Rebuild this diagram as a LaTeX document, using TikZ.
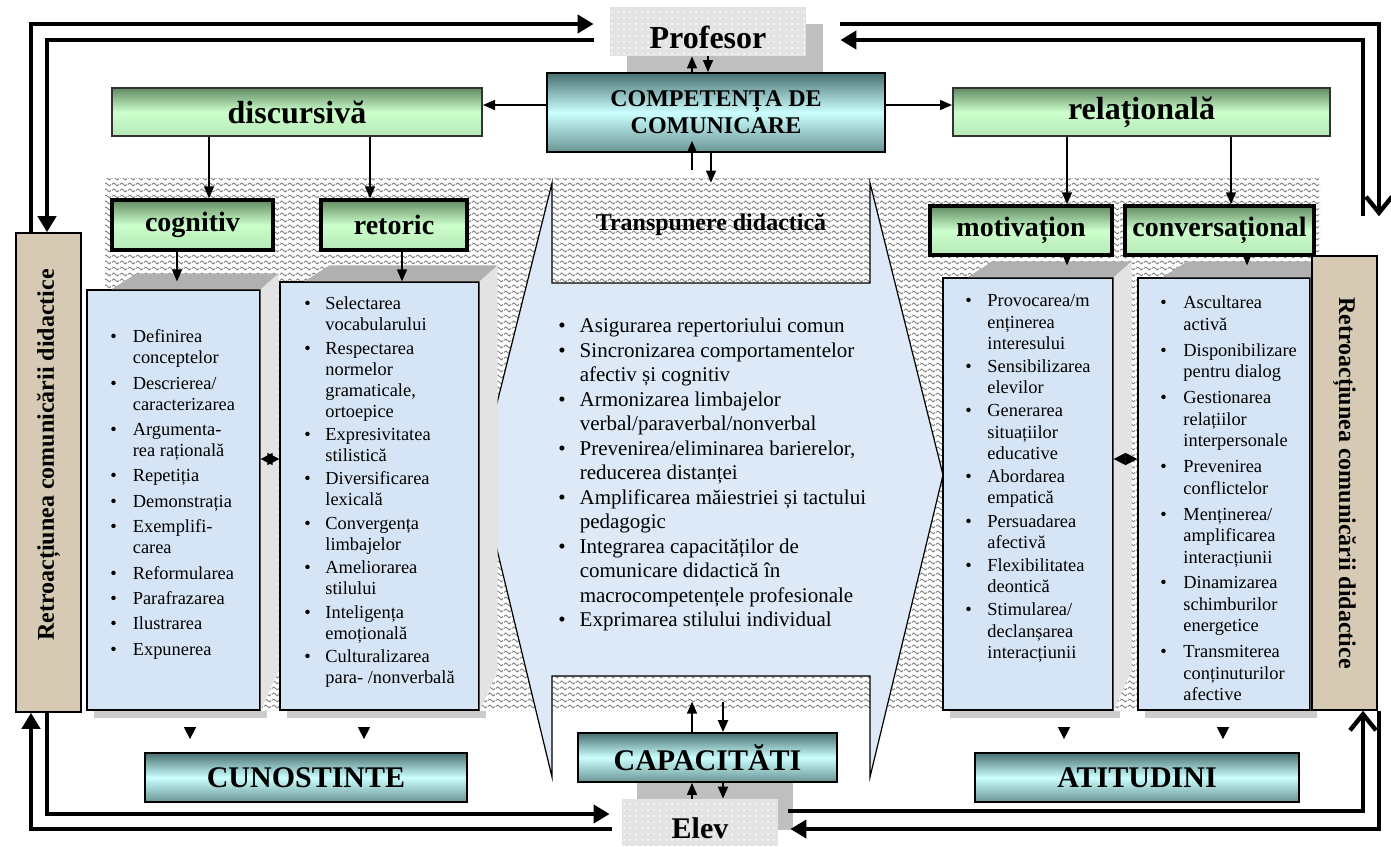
\documentclass[tikz,border=0pt]{standalone}
\usepackage{fontspec}
\setmainfont{Liberation Serif}
\usetikzlibrary{arrows.meta,patterns,fit,shadows}

\definecolor{grdark}{RGB}{98,138,98}
\definecolor{grlight}{RGB}{204,255,204}
\definecolor{tldark}{RGB}{72,112,112}
\definecolor{tllight}{RGB}{204,255,255}
\definecolor{listblue}{RGB}{214,229,246}
\definecolor{callblue}{RGB}{221,233,247}
\definecolor{retrotan}{RGB}{214,202,180}

% wavy hatching of the background
\pgfdeclarepatternformonly{wavy}{\pgfqpoint{0pt}{0pt}}{\pgfqpoint{4pt}{3pt}}{\pgfqpoint{4pt}{3pt}}{%
  \pgfsetlinewidth{0.45pt}
  \pgfpathmoveto{\pgfqpoint{0pt}{1.5pt}}
  \pgfpathcurveto{\pgfqpoint{0.7pt}{2.6pt}}{\pgfqpoint{1.3pt}{2.6pt}}{\pgfqpoint{2pt}{1.5pt}}
  \pgfpathcurveto{\pgfqpoint{2.7pt}{0.4pt}}{\pgfqpoint{3.3pt}{0.4pt}}{\pgfqpoint{4pt}{1.5pt}}
  \pgfusepath{stroke}}

\newcommand{\setfs}[2]{\fontsize{#1}{#2}\selectfont}
% grey 3D faces round a list box
\newcommand{\listbevel}[1]{%
  \fill[gray!62] ([xshift=12.5pt]#1.north west) -- ++(12.5pt,8pt) -- ([xshift=9pt,yshift=8pt]#1.north east) -- (#1.north east) -- cycle;
  \fill[gray!22] (#1.north east) -- ++(9pt,8pt) -- ([xshift=9pt,yshift=20pt]#1.south east) -- (#1.south east) -- cycle;
  \fill[gray!40] ([xshift=4pt]#1.south west) rectangle ([xshift=3pt,yshift=-3.5pt]#1.south east);}

\begin{document}
\begin{tikzpicture}[x=0.5pt, y=-0.5pt,
greenhead/.style={draw=black!80, line width=1pt, top color=grdark, bottom color=grlight!80!grdark, middle color=grlight, inner sep=0pt},
greensub/.style={greenhead, draw=black, line width=1.7pt},
tealbox/.style={draw=black, line width=0.9pt, top color=tldark, bottom color=tldark!75!tllight, middle color=tllight, inner sep=0pt},
bigfont/.style={font=\bfseries\setfs{16}{18}},
subfont/.style={font=\bfseries\setfs{14}{16}},
capsfont/.style={font=\bfseries\setfs{15}{17}},
listbox/.style={draw=black, line width=0.6pt, fill=listblue, inner sep=0pt},
listtext/.style={anchor=north west, inner sep=0pt, font=\setfs{9.2}{10.5}},
retro/.style={draw=black, line width=0.8pt, fill=retrotan, inner sep=0pt},
retrotext/.style={font=\bfseries\setfs{12}{14}},
person/.style={fill=gray!22, postaction={pattern=dots, pattern color=white}, inner sep=0pt},
arr/.style={line width=0.7pt, -{Triangle[length=6pt, width=5pt]}},
tipdown/.style={line width=0.7pt, -{Triangle[length=6pt, width=6pt]}},
both/.style={line width=0.7pt, {Triangle[length=6pt, width=6pt]}-{Triangle[length=6pt, width=6pt]}},
loopline/.style={line width=2.2pt},
bighead/.style={-{Triangle[length=8pt, width=9pt]}},
barbhead/.style={-{Straight Barb[length=8pt, width=13pt]}} ]
\useasboundingbox (0,0) rectangle (1391,846);

% wavy background
\fill[pattern=wavy, pattern color=black!55] (105,178) rectangle (1320,710);

% central callout with its two notches
\draw[fill=callblue, line width=0.6pt] (552,183) -- (552,283) -- (870,283) -- (870,183) -- (943,475) -- (870,777)
  -- (870,676) -- (552,676) -- (552,777) -- (479,475) -- cycle;
\node[fit={(552,183)(870,283)}, inner sep=0pt, label={[font=\bfseries\setfs{12}{14}, yshift=4pt]center:Transpunere didactică}] (transp) {};
\node[fit={(552,676)(870,777)}, inner sep=0pt] (notchb) {};

\node[listtext, font=\setfs{10.5}{12.25}] (mtext) at (558,315) {\begin{tabular}{@{}c@{\hspace{7pt}}l@{}}
\textbullet & Asigurarea repertoriului comun\\
\textbullet & Sincronizarea comportamentelor\\
 & afectiv și cognitiv\\
\textbullet & Armonizarea limbajelor\\
 & verbal/paraverbal/nonverbal\\
\textbullet & Prevenirea/eliminarea barierelor,\\
 & reducerea distanței\\
\textbullet & Amplificarea măiestriei și tactului\\
 & pedagogic\\
\textbullet & Integrarea capacităților de\\
 & comunicare didactică în\\
 & macrocompetențele profesionale\\
\textbullet & Exprimarea stilului individual
\end{tabular}};

% list boxes
\node[listbox, fit={(87,290)(260,710)}] (cl) {};
\node[listbox, fit={(280,282)(479,710)}] (rl) {};
\node[listbox, fit={(943,278)(1113,710)}] (ml) {};
\node[listbox, fit={(1138,278)(1310,710)}] (vl) {};
\listbevel{cl} \listbevel{rl} \listbevel{ml} \listbevel{vl}

\node[listtext] (cltext) at (110,327.5) {\begin{tabular}{@{}c@{\hspace{8pt}}l@{}}
\textbullet & Definirea\\
 & conceptelor\\[2.2pt]
\textbullet & Descrierea/\\
 & caracterizarea\\[2.2pt]
\textbullet & Argumenta-\\
 & rea rațională\\[2.2pt]
\textbullet & Repetiția\\[2.2pt]
\textbullet & Demonstrația\\[2.2pt]
\textbullet & Exemplifi-\\
 & carea\\[2.2pt]
\textbullet & Reformularea\\[2.2pt]
\textbullet & Parafrazarea\\[2.2pt]
\textbullet & Ilustrarea\\[2.2pt]
\textbullet & Expunerea
\end{tabular}};

\node[listtext] (rltext) at (304,294.5) {\begin{tabular}{@{}c@{\hspace{7.3pt}}l@{}}
\textbullet & Selectarea\\
 & vocabularului\\[1.2pt]
\textbullet & Respectarea\\
 & normelor\\
 & gramaticale,\\
 & ortoepice\\[1.2pt]
\textbullet & Expresivitatea\\
 & stilistică\\[1.2pt]
\textbullet & Diversificarea\\
 & lexicală\\[1.2pt]
\textbullet & Convergența\\
 & limbajelor\\[1.2pt]
\textbullet & Ameliorarea\\
 & stilului\\[1.2pt]
\textbullet & Inteligența\\
 & emoțională\\[1.2pt]
\textbullet & Culturalizarea\\
 & para- /nonverbală
\end{tabular}};

\node[listtext, font=\setfs{9.2}{10.65}] (mltext) at (965,291.5) {\begin{tabular}{@{}c@{\hspace{7.8pt}}l@{}}
\textbullet & Provocarea/m\\
 & enținerea\\
 & interesului\\[0.9pt]
\textbullet & Sensibilizarea\\
 & elevilor\\[0.9pt]
\textbullet & Generarea\\
 & situațiilor\\
 & educative\\[0.9pt]
\textbullet & Abordarea\\
 & empatică\\[0.9pt]
\textbullet & Persuadarea\\
 & afectivă\\[0.9pt]
\textbullet & Flexibilitatea\\
 & deontică\\[0.9pt]
\textbullet & Stimularea/\\
 & declanșarea\\
 & interacțiunii
\end{tabular}};

\node[listtext, font=\setfs{9.2}{10.75}] (vltext) at (1160,293.5) {\begin{tabular}{@{}c@{\hspace{8.3pt}}l@{}}
\textbullet & Ascultarea\\
 & activă\\[2.2pt]
\textbullet & Disponibilizare\\
 & pentru dialog\\[2.2pt]
\textbullet & Gestionarea\\
 & relațiilor\\
 & interpersonale\\[2.2pt]
\textbullet & Prevenirea\\
 & conflictelor\\[2.2pt]
\textbullet & Menținerea/\\
 & amplificarea\\
 & interacțiunii\\[2.2pt]
\textbullet & Dinamizarea\\
 & schimburilor\\
 & energetice\\[2.2pt]
\textbullet & Transmiterea\\
 & conținuturilor\\
 & afective
\end{tabular}};

% feedback bars
\node[retro, fit={(16,233)(81,712)}] (lr) {};
\node[retro, fit={(1312,256)(1377,710)}] (rr) {};
\node[retrotext, rotate=90] (lrt) at (48.5,455) {Retroacțiunea comunicării didactice};
\node[retrotext, rotate=-90] (rrt) at (1344.5,483) {Retroacțiunea comunicării didactice};

% heads
\node[person, drop shadow={shadow xshift=8.5pt, shadow yshift=-8.5pt, fill=gray!50, opacity=1},
  fit={(610,7)(806,56)}, label={[bigfont, yshift=-3pt]center:Profesor}] (prof) {};
\node[person, drop shadow={shadow xshift=7.5pt, shadow yshift=8pt, fill=gray!50, opacity=1},
  fit={(622,799)(778,846)}, label={[capsfont, yshift=-3pt]center:Elev}] (elev) {};
\node[tealbox, fit={(547,73)(885,152)},
  label={[align=center, font=\bfseries\setfs{12}{13.5}]center:{COMPETENȚA DE\\COMUNICARE}}] (comp) {};
\node[greenhead, fit={(112,88)(482,136)}, label={[bigfont]center:discursivă}] (disc) {};
\node[greenhead, fit={(953,88)(1330,136)}, label={[bigfont]center:relațională}] (rel) {};
\node[greensub, fit={(112,200)(273,250)}, label={[subfont]center:cognitiv}] (cog) {};
\node[greensub, fit={(321,200)(467,250)}, label={[subfont]center:retoric}] (ret) {};
\node[greensub, fit={(930,206)(1112,255)}, label={[subfont]center:motivațion}] (mot) {};
\node[greensub, fit={(1125,206)(1314,255)}, label={[subfont]center:conversațional}] (conv) {};
\node[tealbox, fit={(145,753)(467,802)}, label={[capsfont]center:CUNOSTINTE}] (cun) {};
\node[tealbox, fit={(578,733)(837,782)}, label={[capsfont]center:CAPACITĂTI}] (cap) {};
\node[tealbox, fit={(975,753)(1299,802)}, label={[capsfont]center:ATITUDINI}] (ati) {};

% thin connectors
\draw[arr] (comp.west |- 0,105) -- (disc.east |- 0,105);
\draw[arr] (comp.east |- 0,105) -- (rel.west |- 0,105);
\draw[arr] (disc.south -| 209,0) -- (cog.north -| 209,0);
\draw[arr] (disc.south -| 370,0) -- (ret.north -| 370,0);
\draw[arr] (rel.south -| 1067,0) -- (mot.north -| 1067,0);
\draw[arr] (rel.south -| 1231,0) -- (conv.north -| 1231,0);
\draw[arr, shorten >=4pt] (cog.south -| 177,0) -- (cl.north -| 177,0);
\draw[arr] (ret.south -| 402,0) -- (rl.north -| 402,0);
\draw[arr, shorten >=6pt] (mot.south -| 1067,0) -- (ml.north -| 1067,0);
\draw[arr, shorten >=6pt] (conv.south -| 1247,0) -- (vl.north -| 1247,0);
\draw[arr] (comp.north -| 692,0) -- (prof.south -| 692,0);
\draw[arr] (prof.south -| 708,0) -- (comp.north -| 708,0);
\draw[arr, shorten <=6.5pt, shorten >=-6pt] (transp.north -| 692,0) -- (comp.south -| 692,0);
\draw[arr] (comp.south -| 711,0) -- (transp.north -| 711,0);
\draw[arr, shorten >=13pt] (cap.north -| 692,0) -- (notchb.north -| 692,0);
\draw[arr, line width=1.1pt, shorten <=13pt] (notchb.north -| 723,0) -- (cap.north -| 723,0);
\draw[arr] (elev.north -| 692,0) -- (cap.south -| 692,0);
\draw[arr, line width=1.1pt] (cap.south -| 723,0) -- (elev.north -| 723,0);
\draw[both] (cl.east |- 0,459) -- (rl.west |- 0,459);
\draw[both] (ml.east |- 0,459) -- (vl.west |- 0,459);
\draw[tipdown, shorten <=9pt, shorten >=6.5pt] (cl.south -| 190,0) -- (cun.north -| 190,0);
\draw[tipdown, shorten <=9pt, shorten >=6.5pt] (rl.south -| 364,0) -- (cun.north -| 364,0);
\draw[tipdown, shorten <=9pt, shorten >=6.5pt] (ml.south -| 1064,0) -- (ati.north -| 1064,0);
\draw[tipdown, shorten <=9pt, shorten >=6.5pt] (vl.south -| 1223,0) -- (ati.north -| 1223,0);

% feedback loops
\draw[loopline, bighead, shorten >=8pt] (lr.north -| 31,0) |- (prof.west |- 0,24);
\draw[loopline, bighead, shorten <=8pt] (prof.west |- 0,40) -| (lr.north -| 47,0);
\draw[loopline, bighead, shorten >=6pt] (lr.south -| 47,0) |- (elev.west |- 0,814);
\draw[loopline, bighead, shorten <=5pt] (elev.west |- 0,829) -| (lr.south -| 31,0);
\draw[loopline, barbhead, shorten <=17pt, shorten >=19.5pt] (prof.east |- 0,24) -| (rr.north -| 1379,0);
\draw[loopline, bighead, shorten <=19.5pt, shorten >=17pt] (rr.north -| 1363,0) |- (prof.east |- 0,40);
\draw[loopline, barbhead, shorten <=5pt] (elev.east |- 0,811) -| (rr.south -| 1363,0);
\draw[loopline, bighead, shorten >=6pt] (rr.south -| 1379,0) |- (elev.east |- 0,829);

\end{tikzpicture}
\end{document}
